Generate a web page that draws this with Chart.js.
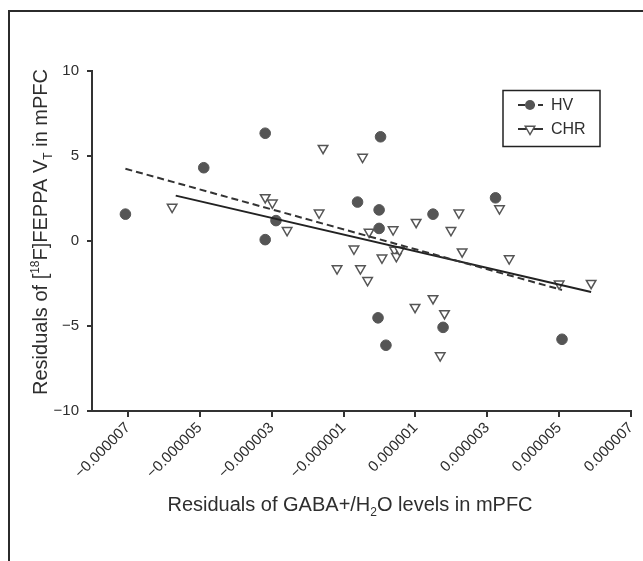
<!DOCTYPE html>
<html>
<head>
<meta charset="utf-8">
<script src="https://cdn.jsdelivr.net/npm/chart.js@4.4.1/dist/chart.umd.min.js"></script>
<style>
  html, body { margin: 0; padding: 0; background: #fff; overflow: hidden; }
  #wrap { position: relative; width: 643px; height: 561px; }
  #frame { position: absolute; left: 8px; top: 10px; width: 700px; height: 700px; border: 2px solid #2b2b2b; box-sizing: border-box; pointer-events: none; }
  canvas { position: absolute; left: 0; top: 0; }
</style>
</head>
<body>
<div id="wrap">
  <canvas id="c" width="643" height="561"></canvas>
  <div id="frame"></div>
</div>
<script>
// ---- Data ----
const hvX = [-7.07e-6, -4.89e-6, -3.18e-6, -3.18e-6, -2.88e-6, -0.61e-6, 0.03e-6, -0.01e-6, -0.01e-6, -0.04e-6, 0.18e-6, 1.49e-6, 1.77e-6, 3.23e-6, 5.08e-6];
const hvY = [1.58, 4.31, 6.34, 0.08, 1.20, 2.29, 6.13, 1.83, 0.74, -4.52, -6.13, 1.58, -5.08, 2.54, -5.78];

const chrX = [-5.77e-6, -3.18e-6, -2.98e-6, -2.57e-6, -1.68e-6, -1.57e-6, -1.18e-6, -0.71e-6, -0.53e-6, -0.47e-6, -0.33e-6, -0.29e-6, 0.07e-6, 0.38e-6, 0.42e-6, 0.47e-6, 0.56e-6, 0.99e-6, 1.02e-6, 1.49e-6, 1.69e-6, 1.81e-6, 1.99e-6, 2.21e-6, 2.30e-6, 3.34e-6, 3.61e-6, 5.00e-6, 5.89e-6];
const chrY = [2.00, 2.56, 2.25, 0.63, 1.66, 5.46, -1.62, -0.46, -1.62, 4.94, -2.31, 0.53, -0.99, 0.67, -0.53, -0.90, -0.53, -3.89, 1.11, -3.38, -6.74, -4.26, 0.63, 1.66, -0.63, 1.91, -1.03, -2.52, -2.48];

// Regression line endpoints
const hvFitX = [-7.07e-6, 5.08e-6];
const hvFitY = [4.25, -2.88];
const chrFitX = [-5.67e-6, 5.89e-6];
const chrFitY = [2.67, -3.00];

const xTickValues = [-7e-6, -5e-6, -3e-6, -1e-6, 1e-6, 3e-6, 5e-6, 7e-6];
const xTickLabels = ["\u22120.000007", "\u22120.000005", "\u22120.000003", "\u22120.000001", "0.000001", "0.000003", "0.000005", "0.000007"];
const yTickValues = [-10, -5, 0, 5, 10];
const yTickLabels = ["\u221210", "\u22125", "0", "5", "10"];

const seriesLabels = ["HV", "CHR"];

const pts = (xs, ys) => xs.map((x, i) => ({ x: x, y: ys[i] }));

const AX = '#333333';
const TXT = '#2e2e2e';
const FONT = 'Liberation Sans, Arial, Helvetica, sans-serif';

function drawSegments(ctx, segs, x, y, size) {
  let total = 0;
  const widths = segs.map(([t, m]) => {
    ctx.font = (m === 0 ? size : Math.round(size * 0.62)) + 'px ' + FONT;
    const w = ctx.measureText(t).width;
    total += w;
    return w;
  });
  let cx = x - total / 2;
  segs.forEach(([t, m], i) => {
    ctx.font = (m === 0 ? size : Math.round(size * 0.62)) + 'px ' + FONT;
    const dy = m === 1 ? -size * 0.38 : (m === -1 ? size * 0.25 : 0);
    ctx.fillText(t, cx, y + dy);
    cx += widths[i];
  });
}

const titlesPlugin = {
  id: 'titles',
  afterDraw(chart) {
    const ctx = chart.ctx;
    ctx.save();
    ctx.fillStyle = TXT;
    ctx.textBaseline = 'alphabetic';
    ctx.textAlign = 'left';
    drawSegments(ctx, [["Residuals of GABA+/H", 0], ["2", -1], ["O levels in mPFC", 0]], 350, 511, 20);
    ctx.translate(47, 232);
    ctx.rotate(-Math.PI / 2);
    drawSegments(ctx, [["Residuals of [", 0], ["18", 1], ["F]FEPPA V", 0], ["T", -1], [" in mPFC", 0]], 0, 0, 20);
    ctx.restore();
  }
};

const legendPlugin = {
  id: 'customLegend',
  afterDraw(chart) {
    const ctx = chart.ctx;
    ctx.save();
    ctx.strokeStyle = '#222';
    ctx.lineWidth = 1.5;
    ctx.strokeRect(503, 90.5, 97, 56);
    const rows = [
      { label: seriesLabels[0], y: 105, dash: [7, 3], style: 'circle' },
      { label: seriesLabels[1], y: 129, dash: [], style: 'triangle' }
    ];
    rows.forEach(r => {
      ctx.strokeStyle = AX;
      ctx.lineWidth = 2;
      ctx.setLineDash(r.dash);
      ctx.beginPath();
      ctx.moveTo(518, r.y);
      ctx.lineTo(543, r.y);
      ctx.stroke();
      ctx.setLineDash([]);
      if (r.style === 'circle') {
        ctx.fillStyle = '#555';
        ctx.beginPath();
        ctx.arc(530, r.y, 5, 0, Math.PI * 2);
        ctx.fill();
      } else {
        ctx.fillStyle = '#fff';
        ctx.strokeStyle = '#555';
        ctx.lineWidth = 1.5;
        const rr = 5.5;
        ctx.beginPath();
        ctx.moveTo(530 - rr * 0.866, r.y - rr * 0.5);
        ctx.lineTo(530 + rr * 0.866, r.y - rr * 0.5);
        ctx.lineTo(530, r.y + rr);
        ctx.closePath();
        ctx.fill();
        ctx.stroke();
      }
      ctx.fillStyle = TXT;
      ctx.font = '16px ' + FONT;
      ctx.textBaseline = 'middle';
      ctx.textAlign = 'left';
      ctx.fillText(r.label, 551, r.y + 1);
    });
    ctx.restore();
  }
};

new Chart(document.getElementById('c'), {
  type: 'scatter',
  data: {
    datasets: [
      {
        label: seriesLabels[0] + ' fit', type: 'line', data: pts(hvFitX, hvFitY),
        borderColor: AX, borderWidth: 2, borderDash: [7, 4], pointRadius: 0, fill: false, showLine: true
      },
      {
        label: seriesLabels[1] + ' fit', type: 'line', data: pts(chrFitX, chrFitY),
        borderColor: '#222', borderWidth: 2, pointRadius: 0, fill: false, showLine: true
      },
      {
        label: seriesLabels[0], data: pts(hvX, hvY),
        pointStyle: 'circle', pointRadius: 5.3, backgroundColor: '#555', borderColor: '#555', borderWidth: 1
      },
      {
        label: seriesLabels[1], data: pts(chrX, chrY),
        pointStyle: 'triangle', pointRotation: 180, pointRadius: 5.5, backgroundColor: '#fff', borderColor: '#555', borderWidth: 1.5
      }
    ]
  },
  options: {
    responsive: false,
    animation: false,
    layout: { padding: { left: 0, top: 71, right: 12, bottom: 0 } },
    plugins: { legend: { display: false }, tooltip: { enabled: false } },
    scales: {
      x: {
        type: 'linear', min: -8e-6, max: 7e-6,
        afterBuildTicks: (s) => { s.ticks = xTickValues.map(v => ({ value: v })); },
        afterFit: (s) => { s.height = 150; s.paddingLeft = 0; s.paddingRight = 0; },
        ticks: {
          minRotation: 45, maxRotation: 45, autoSkip: false, padding: 2,
          color: TXT, font: { family: FONT, size: 15 },
          callback: (v, i) => xTickLabels[i]
        },
        grid: { drawOnChartArea: false, tickLength: 6, color: AX, lineWidth: 2 },
        border: { color: AX, width: 2 }
      },
      y: {
        min: -10, max: 10,
        afterBuildTicks: (s) => { s.ticks = yTickValues.map(v => ({ value: v })); },
        afterFit: (s) => { s.width = 92; s.paddingTop = 0; s.paddingBottom = 0; },
        ticks: {
          padding: 8, color: TXT, font: { family: FONT, size: 15 },
          callback: (v, i) => yTickLabels[i]
        },
        grid: { drawOnChartArea: false, tickLength: 5, color: AX, lineWidth: 2 },
        border: { color: AX, width: 2 }
      }
    }
  },
  plugins: [titlesPlugin, legendPlugin]
});
</script>
</body>
</html>
